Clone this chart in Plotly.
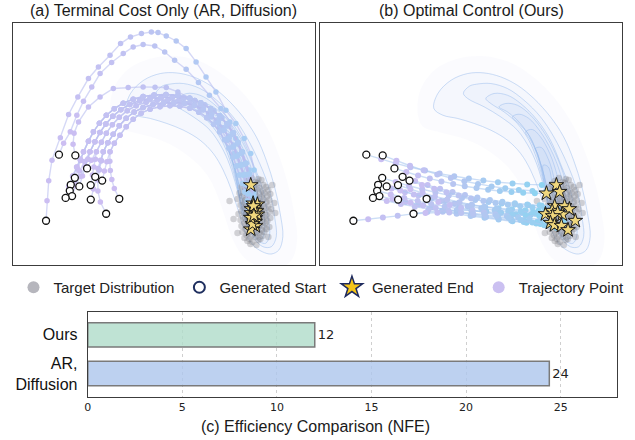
import plotly.graph_objects as go

# ------------------------------------------------------------------
# DATA  (shared 2-D frame of panels (a) and (b): x to the right, y downward)
# ------------------------------------------------------------------
START_X = [33.3, 46.3, 62.8, 74.6, 62.3, 82.8, 89.8, 58.2, 66.8, 78.2, 57.2, 59.5, 53.0, 78.3, 107.0, 93.8]
START_Y = [197.7, 131.5, 132.3, 145.3, 154.7, 153.7, 157.5, 161.7, 163.3, 162.0, 167.7, 173.0, 174.8, 176.5, 175.7, 190.7]

# generated end points, panel (a) (terminal cost only) and panel (b) (optimal control)
END_A_X = [239.3, 241.7, 246.0, 240.0, 243.0, 244.0, 240.0, 245.0, 246.0, 243.7, 242.0, 244.0, 239.3, 241.0, 239.3, 242.5]
END_A_Y = [162.0, 180.3, 181.3, 186.0, 185.0, 195.0, 190.0, 188.0, 191.3, 198.7, 183.0, 203.0, 206.3, 201.0, 194.7, 192.5]
END_B_X = [226.6, 237.6, 240.9, 227.6, 235.9, 245.9, 250.6, 233.3, 243.6, 238.9, 233.9, 231.6, 235.6, 242.6, 256.6, 249.3]
END_B_Y = [191.0, 162.0, 168.7, 170.3, 183.0, 183.0, 186.0, 187.7, 191.3, 189.7, 193.0, 199.7, 202.0, 202.7, 197.7, 207.0]

# panel (a): the three outer arcs (intermediate points, by start index)
ARC_A = {
    0: [(34.3, 177.7), (36.0, 157.7), (39.3, 137.0), (47.7, 114.7), (56.0, 91.3), (65.3, 73.7), (76.0, 55.3),
        (86.0, 43.7), (97.7, 32.0), (108.3, 20.3), (118.3, 13.7), (129.3, 10.3), (139.3, 8.7), (146.0, 9.3),
        (154.3, 12.7), (164.3, 17.7), (174.3, 25.3), (184.3, 38.7), (194.3, 53.7), (204.3, 68.7), (214.3, 87.0),
        (224.3, 100.3), (232.7, 115.3), (239.3, 130.3), (242.7, 147.0)],
    1: [(51.0, 120.0), (57.7, 108.7), (64.3, 92.0), (71.0, 78.0), (79.3, 63.7), (87.7, 50.3), (99.3, 39.3),
        (111.0, 30.3), (121.0, 23.7), (131.0, 21.3), (142.7, 22.7), (152.7, 28.7), (162.7, 37.0), (174.3, 46.0),
        (186.7, 59.3), (197.7, 72.0), (209.3, 85.3), (218.3, 98.7), (224.3, 115.3), (231.0, 128.7), (237.7, 147.0),
        (240.5, 164.0)],
    2: [(60.5, 121.0), (61.5, 110.0), (66.0, 98.7), (76.0, 83.7), (87.7, 73.7), (101.0, 65.3), (116.0, 64.3),
        (131.0, 63.7), (143.0, 64.0), (154.3, 64.3), (166.0, 68.7), (177.7, 74.7), (189.3, 83.7), (199.3, 93.7),
        (207.7, 103.7), (216.0, 117.0), (222.7, 130.3), (228.3, 142.0), (234.3, 152.0), (239.0, 161.0),
        (242.5, 170.0)],
}

# panel (a): the dense band, read as five lanes from outer to inner edge
LANES = {
    "A": [(71, 128.7), (76, 118), (81, 108.7), (87, 100), (94, 92), (102, 85.5), (111, 80), (121, 76), (131, 73.3),
          (142, 71.8), (154, 71.3), (166, 72.3), (178, 75), (189, 79.5), (199, 85.5), (208, 92.5), (215.5, 100.5),
          (221.5, 109.5), (226.5, 119), (230.5, 129), (234.5, 140), (238, 151), (240.5, 162)],
    "AB": [(77.5, 128.7), (82.5, 118.5), (87.5, 109.4), (93.5, 100.8), (100.5, 93), (108.5, 86.5), (117.5, 81.3),
           (127.5, 77.5), (138, 75.2), (149, 74.4), (160.5, 73.9), (172, 74.7), (183, 77.3), (193, 81.8), (202, 87.8),
           (210, 94.8), (216.3, 102.5), (221.8, 111.3), (226.3, 120.5), (230, 130.3), (233.5, 140.8), (236.5, 151.3),
           (238.8, 161.5)],
    "B": [(84, 128.7), (89, 119), (94, 110), (100, 101.5), (107, 94), (115, 87.5), (124, 82.5), (134, 79), (145, 77),
          (156, 76.5), (167, 77), (178, 79.5), (188, 84), (197, 90), (205, 97), (211.5, 104.5), (217, 113), (222, 122),
          (226, 131.5), (229.5, 141.5), (232.5, 151.5), (235, 161), (237, 171)],
    "BC": [(90.9, 128.7), (95.5, 119.5), (100.9, 111), (107, 102.5), (114, 95), (122, 88.8), (131, 84.3), (141, 81.3),
           (151.5, 79.8), (162, 79.5), (172.5, 80), (182.5, 82.3), (191.5, 86.5), (199.5, 92.3), (206.5, 99),
           (212.3, 106.8), (217.3, 114.8), (221.8, 123.5), (225.5, 132.8), (228.8, 142.3), (231.8, 151.8),
           (234.3, 161.3), (236.5, 170.5)],
    "C": [(97.7, 128.7), (102, 120), (107.7, 112), (114, 103.5), (121, 96), (129, 90), (138, 86), (148, 83.5),
          (158, 82.5), (168, 83), (178, 85), (187, 89), (195, 94.5), (202, 101), (208, 108.5), (213, 116.5),
          (217.5, 125), (221.5, 134), (225, 143), (228, 152), (231, 160.5), (233.5, 169), (236, 178)],
}

# (start index, rising points, lane, descending points)
BAND_A = [
    (3, [(79.0, 137.0)], "B", [(238.8, 178.5)]),
    (4, [(65.0, 146.0), (68.0, 137.3)], "A", [(242.5, 173.5)]),
    (5, [(85.5, 145.5), (88.0, 137.0)], "BC", [(239.0, 180.5), (241.5, 188.0)]),
    (6, [(92.0, 148.0), (94.5, 138.5)], "C", []),
    (7, [(61.0, 152.5), (64.5, 144.0), (68.0, 136.0)], "A", [(243.0, 175.0)]),
    (8, [(70.0, 153.0), (73.0, 143.5), (75.5, 136.0)], "AB", [(241.5, 171.5), (244.0, 181.5)]),
    (9, [(80.0, 152.0), (81.5, 144.0), (83.0, 136.0)], "B", [(239.5, 181.0), (241.5, 190.0)]),
    (10, [(62.0, 158.0), (67.0, 148.0), (72.0, 138.3)], "AB", [(240.5, 172.5)]),
    (11, [(63.0, 163.0), (67.5, 153.5), (72.5, 144.0), (75.5, 136.0)], "AB", [(241.0, 172.5), (242.5, 183.5), (243.5, 193.5)]),
    (12, [(56.0, 163.5), (60.0, 153.0), (64.0, 144.0), (67.5, 136.0)], "A", [(241.5, 174.0), (241.0, 186.0), (240.0, 196.5)]),
    (13, [(81.0, 166.0), (84.0, 156.0), (86.5, 146.5), (89.0, 137.5)], "BC", [(238.0, 180.5), (239.5, 191.0)]),
    (14, [(102.0, 165.3), (99.5, 156.5), (98.0, 147.5), (97.5, 138.0)], "C", [(237.5, 186.5)]),
    (15, [(88.0, 179.0), (85.5, 168.0), (85.5, 157.0), (87.0, 147.0), (89.0, 137.5)], "BC", [(239.5, 181.5)]),
]

# panel (b): intermediate points of each trajectory (by start index)
MID_B_X = [
    [48.2, 63.0, 77.9, 92.8, 107.7, 122.5, 137.4, 152.3, 167.1, 182.0, 196.9, 211.7],
    [61.3, 76.0, 90.7, 105.4, 120.1, 134.8, 149.5, 164.1, 178.8, 193.5, 208.2, 222.9],
    [76.6, 90.3, 104.0, 117.7, 131.4, 145.0, 158.7, 172.4, 186.1, 199.8, 213.5, 227.2],
    [86.6, 98.4, 110.2, 121.9, 133.7, 145.4, 157.2, 168.9, 180.7, 192.4, 204.2, 215.9],
    [75.9, 89.3, 102.6, 115.9, 129.3, 142.6, 155.9, 169.2, 182.6, 195.9, 209.2, 222.6],
    [95.4, 108.0, 120.5, 133.1, 145.6, 158.1, 170.7, 183.2, 195.8, 208.3, 220.8, 233.4],
    [102.3, 114.6, 127.0, 139.3, 151.7, 164.1, 176.4, 188.8, 201.1, 213.5, 225.9, 238.2],
    [71.8, 85.2, 98.7, 112.1, 125.6, 139.1, 152.5, 166.0, 179.4, 192.9, 206.4, 219.8],
    [80.5, 94.1, 107.7, 121.3, 134.9, 148.4, 162.0, 175.6, 189.2, 202.8, 216.4, 230.0],
    [90.7, 103.0, 115.4, 127.7, 140.1, 152.4, 164.8, 177.1, 189.5, 201.8, 214.2, 226.5],
    [70.9, 84.5, 98.0, 111.6, 125.2, 138.8, 152.4, 166.0, 179.5, 193.1, 206.7, 220.3],
    [72.8, 86.1, 99.3, 112.5, 125.8, 139.0, 152.2, 165.4, 178.7, 191.9, 205.1, 218.4],
    [66.9, 81.0, 95.1, 109.1, 123.2, 137.2, 151.3, 165.3, 179.4, 193.4, 207.5, 221.5],
    [90.9, 103.6, 116.2, 128.9, 141.5, 154.1, 166.8, 179.4, 192.1, 204.7, 217.3, 230.0],
    [118.8, 130.3, 141.7, 153.2, 164.7, 176.2, 187.7, 199.1, 210.6, 222.1, 233.6, 245.1],
    [105.9, 117.8, 129.8, 141.7, 153.7, 165.6, 177.6, 189.5, 201.5, 213.4, 225.4, 237.3],
]
MID_B_Y = [
    [196.2, 194.5, 192.8, 190.8, 188.9, 187.8, 187.1, 187.5, 188.4, 189.8, 191.3, 191.8],
    [136.2, 140.3, 144.1, 147.5, 150.5, 153.2, 155.5, 157.5, 159.1, 160.4, 161.3, 161.8],
    [137.7, 142.6, 147.2, 151.3, 154.9, 158.1, 160.9, 163.3, 165.2, 166.8, 167.8, 168.5],
    [149.0, 152.4, 155.5, 158.3, 160.8, 163.1, 165.0, 166.6, 167.9, 169.0, 169.7, 170.2],
    [158.9, 162.7, 166.2, 169.4, 172.3, 174.8, 177.0, 178.8, 180.3, 181.5, 182.3, 182.8],
    [158.0, 162.0, 165.7, 169.0, 171.9, 174.5, 176.8, 178.7, 180.2, 181.4, 182.3, 182.8],
    [161.9, 165.7, 169.2, 172.4, 175.3, 177.8, 180.0, 181.8, 183.3, 184.5, 185.3, 185.8],
    [165.5, 169.1, 172.3, 175.2, 177.8, 180.2, 182.2, 183.9, 185.2, 186.3, 187.1, 187.5],
    [167.4, 171.3, 174.7, 177.9, 180.7, 183.2, 185.3, 187.2, 188.6, 189.8, 190.6, 191.1],
    [166.1, 169.9, 173.3, 176.4, 179.2, 181.7, 183.8, 185.6, 187.1, 188.2, 189.0, 189.5],
    [171.4, 174.9, 178.0, 180.9, 183.4, 185.7, 187.6, 189.3, 190.6, 191.7, 192.4, 192.8],
    [176.0, 178.8, 181.5, 184.1, 186.4, 188.6, 190.7, 192.6, 194.3, 195.9, 197.3, 198.6],
    [178.0, 180.9, 183.6, 186.2, 188.6, 190.8, 192.9, 194.8, 196.5, 198.2, 199.6, 200.9],
    [179.6, 182.4, 185.0, 187.5, 189.8, 191.9, 193.9, 195.8, 197.4, 199.0, 200.4, 201.6],
    [179.0, 181.9, 184.7, 187.2, 189.4, 191.3, 193.0, 194.4, 195.6, 196.5, 197.2, 197.6],
    [190.0, 189.6, 189.5, 189.8, 190.5, 191.6, 193.0, 194.8, 197.0, 199.5, 202.2, 204.8],
]

# target distribution samples
TARGET = [
    (240, 155), (247, 156), (236, 158), (244, 159), (250, 157), (233, 161), (239, 162), (246, 160), (252, 162),
    (261, 162), (230, 164), (237, 165), (242, 163), (248, 165), (255, 164), (234, 167), (240, 168), (245, 166),
    (251, 168), (257, 167), (228, 170), (236, 171), (243, 169), (248, 171), (253, 170), (259, 171), (231, 173),
    (238, 174), (244, 172), (250, 174), (256, 173), (226, 176), (234, 177), (241, 175), (246, 177), (252, 176),
    (258, 177), (218, 178), (232, 179), (238, 180), (243, 178), (249, 180), (255, 179), (263, 180), (229, 182),
    (235, 183), (240, 181), (246, 183), (251, 182), (257, 183), (233, 185), (239, 186), (244, 184), (249, 186),
    (254, 185), (260, 186), (230, 188), (236, 189), (241, 187), (247, 189), (252, 188), (258, 189), (227, 191),
    (234, 192), (239, 190), (244, 192), (250, 191), (255, 192), (264, 190), (232, 194), (237, 195), (242, 193),
    (248, 195), (253, 194), (259, 195), (222, 196), (229, 197), (235, 198), (240, 196), (246, 198), (251, 197),
    (256, 198), (233, 200), (238, 201), (243, 199), (249, 201), (254, 200), (230, 203), (236, 204), (241, 202),
    (247, 204), (252, 203), (258, 204), (234, 206), (239, 207), (244, 205), (250, 207), (255, 206), (226, 210),
    (231, 209), (237, 210), (242, 208), (248, 210), (253, 209), (235, 212), (240, 213), (245, 211), (251, 213),
    (257, 214), (233, 215), (238, 216), (244, 214), (249, 216), (236, 218), (241, 219), (247, 217), (239, 221),
    (245, 222),
]
TARGET_X = [p[0] for p in TARGET]
TARGET_Y = [p[1] for p in TARGET]

# density iso-lines of the target (outer faint halo first, then contour lines outer -> inner)
CONTOURS = [
    [(98, 90), (101, 66), (116, 46), (140, 35), (165, 33), (188, 38), (208, 49), (226, 64), (243, 84), (257, 107),
     (268, 133), (277, 162), (283, 190), (286, 216), (281, 236), (267, 246), (249, 244), (233, 235), (221, 216),
     (213, 193), (206, 173), (198, 156), (187, 142), (174, 131), (158, 121), (140, 114), (120, 109), (103, 103)],
    [(114.3, 85.3), (118.3, 70.3), (131.6, 57), (148.3, 50.3), (164.9, 49.7), (181.6, 53.7), (198.3, 62),
     (214.9, 75.3), (231.6, 93.7), (244.9, 113.7), (254.9, 137), (263.3, 163.7), (268.9, 190.3), (271.6, 213.7),
     (267.6, 227), (259.9, 231), (250.9, 228.7), (241.6, 222), (233.3, 208.7), (226.6, 187), (219.9, 167),
     (211.6, 147), (201.6, 130.3), (188.3, 117), (171.6, 107), (154.9, 100.3), (138.3, 95.3), (123.3, 92)],
    [(144, 70), (150, 63), (157, 61), (171.6, 60.3), (188.3, 65.3), (205, 77), (221.6, 93.7), (235, 113.7),
     (248.3, 140.3), (258.3, 167), (263.3, 193.7), (265, 213.7), (260, 223.7), (251.6, 223.7), (241.6, 213.7),
     (233.3, 193.7), (226.6, 170.3), (220, 147), (211.6, 127), (198.3, 107), (181.6, 93.7), (165, 83.7),
     (148.3, 75.3)],
    [(166.6, 75.3), (174.9, 70.3), (188.3, 72), (201.6, 80.3), (218.3, 97), (231.6, 117), (241.6, 140.3),
     (251.6, 167), (256.6, 193.7), (258.3, 212), (254.3, 220.3), (248.3, 218.7), (238.3, 207), (231.6, 187),
     (224.9, 160.3), (218.3, 137), (209.9, 117), (198.3, 100.3), (184.9, 88.7), (171.6, 80.3)],
    [(179.9, 83.7), (186.6, 80.3), (198.3, 82), (211.6, 92), (224.9, 108.7), (236.6, 130.3), (246.6, 157),
     (251.6, 183.7), (253.3, 207), (249.9, 216.3), (243.3, 213.7), (236.6, 200.3), (230.9, 177), (225.6, 153.7),
     (218.9, 132), (210.9, 113.7), (199.9, 98.7), (188.3, 88.7)],
    [(193.3, 93.7), (199.9, 91), (209.9, 95.3), (221.6, 108.7), (232.3, 127), (241.6, 150.3), (247.3, 177),
     (249.3, 200.3), (246.6, 211), (240.9, 208.7), (234.9, 195.3), (229.9, 173.7), (224.9, 152), (218.3, 130.3),
     (209.9, 112), (199.9, 100.3)],
    [(206.6, 108.7), (213.3, 106.3), (221.6, 113.7), (230.9, 130.3), (238.3, 152), (243.3, 177), (244.9, 197),
     (242.3, 207), (236.6, 203.7), (231.6, 190.3), (227.6, 170.3), (223.3, 150.3), (217.6, 130.3), (211.6, 117)],
    [(216.6, 125.3), (222.3, 124.3), (229.9, 137), (235.6, 157), (238.9, 178.7), (239.9, 195.3), (236.6, 202),
     (232.3, 197.7), (229.3, 183.7), (225.9, 163.7), (222.3, 143.7), (218.9, 131)],
    [(224.3, 142), (229.3, 143.7), (233.3, 160.3), (235.6, 177), (235.6, 190.3), (233.3, 193.7), (229.9, 188.7),
     (227.6, 173.7), (225.6, 157)],
]

# efficiency comparison
BAR_CATS = ["AR,<br>Diffusion", "Ours"]
BAR_VALUES = [24.4, 12.0]
BAR_LABELS = ["24", "12"]

TITLE_A = "(a) Terminal Cost Only (AR, Diffusion)"
TITLE_B = "(b) Optimal Control (Ours)"
TITLE_C = "(c) Efficiency Comparison (NFE)"

# ------------------------------------------------------------------
# FIGURE
# ------------------------------------------------------------------
W, H = 635, 440


def fx(p):
    return p / W


def fy(p):
    return 1 - p / H


SANS = "Liberation Sans, Arial, sans-serif"
DEJAVU = "DejaVu Sans, sans-serif"

fig = go.Figure()

# trajectories
traj_a = []
for i in range(3):
    pts = [(START_X[i], START_Y[i])] + ARC_A[i] + [(END_A_X[i], END_A_Y[i])]
    traj_a.append(pts)
for i, rise, lane, fall in BAND_A:
    pts = [(START_X[i], START_Y[i])] + rise + LANES[lane] + fall + [(END_A_X[i], END_A_Y[i])]
    traj_a.append(pts)

traj_b = []
for i in range(len(START_X)):
    xs = [START_X[i]] + MID_B_X[i] + [END_B_X[i]]
    ys = [START_Y[i]] + MID_B_Y[i] + [END_B_Y[i]]
    traj_b.append(list(zip(xs, ys)))

CS_A = [[0, "#cdbdf2"], [0.5, "#bcc4f2"], [1, "#a2d0f4"]]
CS_B = [[0, "#cdbdf2"], [0.5, "#b0c8f1"], [1, "#88d5f1"]]

panels = [
    ("x", "y", traj_a, CS_A, "rgba(185,190,240,0.6)", 5.5, 1.4),
    ("x2", "y2", traj_b, CS_B, "rgba(170,200,240,0.6)", 6, 1.4),
]

for xa, ya, trajs, cs, lcol, msize, lw in panels:
    # density contours
    for k, c in enumerate(CONTOURS):
        cx = [p[0] for p in c] + [c[0][0]]
        cy = [p[1] for p in c] + [c[0][1]]
        if k == 0:
            fig.add_trace(go.Scatter(x=cx, y=cy, mode="lines", fill="toself",
                                     fillcolor="rgba(120,125,230,0.03)",
                                     line=dict(width=0, shape="spline", smoothing=1),
                                     hoverinfo="skip", showlegend=False, xaxis=xa, yaxis=ya))
        else:
            fig.add_trace(go.Scatter(x=cx, y=cy, mode="lines", fill="toself",
                                     fillcolor="rgba(120,155,225,0.042)",
                                     line=dict(width=0.8, color="rgba(150,185,235,0.6)", shape="spline",
                                               smoothing=1),
                                     hoverinfo="skip", showlegend=False, xaxis=xa, yaxis=ya))
    # target samples
    fig.add_trace(go.Scatter(x=TARGET_X, y=TARGET_Y, mode="markers",
                             marker=dict(size=6.5, color="rgba(125,125,130,0.33)", line=dict(width=0)),
                             hoverinfo="skip", showlegend=False, xaxis=xa, yaxis=ya))
    # trajectories
    for pts in trajs:
        n = len(pts)
        fig.add_trace(go.Scatter(x=[p[0] for p in pts], y=[p[1] for p in pts], mode="lines+markers",
                                 line=dict(color=lcol, width=lw),
                                 marker=dict(size=msize, color=[k / (n - 1) for k in range(n)], colorscale=cs,
                                             cmin=0, cmax=1, line=dict(width=0)),
                                 hoverinfo="skip", showlegend=False, xaxis=xa, yaxis=ya))
    # starts
    fig.add_trace(go.Scatter(x=START_X, y=START_Y, mode="markers",
                             marker=dict(symbol="circle", size=7, color="white", line=dict(color="#111111", width=1.3)),
                             hoverinfo="skip", showlegend=False, xaxis=xa, yaxis=ya))
    # ends
    ex = END_A_X if xa == "x" else END_B_X
    ey = END_A_Y if xa == "x" else END_B_Y
    fig.add_trace(go.Scatter(x=ex, y=ey, mode="markers",
                             marker=dict(symbol="star", size=11, color="#f0d77e", line=dict(color="#1a1a1a", width=1)),
                             hoverinfo="skip", showlegend=False, xaxis=xa, yaxis=ya))

# legend entries
legend_items = [
    ("Target Distribution", dict(symbol="circle", size=12, color="#b6b6bd")),
    ("Generated Start", dict(symbol="circle", size=11, color="white", line=dict(color="#1f2f5f", width=2))),
    ("Generated End", dict(symbol="star", size=16, color="#f5c518", line=dict(color="#1e2a5e", width=1.5))),
    ("Trajectory Point", dict(symbol="circle", size=12, color="#cbc0f1")),
]
for name, mk in legend_items:
    fig.add_trace(go.Scatter(x=[None], y=[None], mode="markers", name=name, marker=mk,
                             showlegend=True, xaxis="x", yaxis="y"))

# bars
fig.add_trace(go.Bar(
    y=BAR_CATS, x=BAR_VALUES, orientation="h", width=0.63,
    marker=dict(color=["rgba(173,198,236,0.8)", "rgba(175,220,201,0.8)"],
                line=dict(color="#7a7a7a", width=1.5)),
    text=BAR_LABELS, textposition="outside", cliponaxis=False,
    textfont=dict(family=DEJAVU, size=13, color="#222222"),
    hoverinfo="skip", showlegend=False, xaxis="x3", yaxis="y3"))

frame = dict(showline=True, mirror=True, linecolor="#3c3c3c", linewidth=1.2, showgrid=False,
             zeroline=False, showticklabels=False, ticks="")

fig.update_layout(
    width=W, height=H, margin=dict(l=0, r=0, t=0, b=0),
    paper_bgcolor="white", plot_bgcolor="white",
    xaxis=dict(domain=[fx(9), fx(313.3)], range=[0, 304.3], **frame),
    yaxis=dict(domain=[fy(265), fy(23.3)], range=[242, 0], **frame),
    xaxis2=dict(domain=[fx(318.3), fx(622)], range=[0, 303.7], anchor="y2", **frame),
    yaxis2=dict(domain=[fy(265), fy(23.3)], range=[242, 0], anchor="x2", **frame),
    xaxis3=dict(domain=[fx(84.3), fx(617.3)], range=[0, 28], anchor="y3",
                tickvals=[0, 5, 10, 15, 20, 25], ticks="", ticklabelstandoff=0,
                tickfont=dict(family=DEJAVU, size=11, color="#222"),
                showgrid=True, gridcolor="#cfcfcf", griddash="dot", gridwidth=1,
                showline=True, mirror=True, linecolor="#3c3c3c", linewidth=1.2, zeroline=False),
    yaxis3=dict(domain=[fy(396.7), fy(311.7)], range=[-0.6, 1.6], anchor="x3", type="category",
                tickfont=dict(family=SANS, size=16, color="#111"), ticks="", ticklabelstandoff=6,
                showline=True, mirror=True, linecolor="#3c3c3c", linewidth=1.2, showgrid=False,
                zeroline=False),
    legend=dict(orientation="h", x=fx(319.5), xanchor="center", y=fy(287.5), yanchor="middle",
                font=dict(family=SANS, size=15, color="#222"), itemwidth=30,
                bgcolor="rgba(0,0,0,0)", itemclick=False, itemdoubleclick=False),
    annotations=[
        dict(text=TITLE_A, x=fx(161), y=fy(10.5), xref="paper", yref="paper", showarrow=False,
             xanchor="center", yanchor="middle", font=dict(family=SANS, size=16, color="#1a1a1a")),
        dict(text=TITLE_B, x=fx(470), y=fy(10.5), xref="paper", yref="paper", showarrow=False,
             xanchor="center", yanchor="middle", font=dict(family=SANS, size=16, color="#1a1a1a")),
        dict(text=TITLE_C, x=fx(313), y=fy(426), xref="paper", yref="paper", showarrow=False,
             xanchor="center", yanchor="middle", font=dict(family=SANS, size=16, color="#1a1a1a")),
    ],
)

fig.write_html("out.html")
